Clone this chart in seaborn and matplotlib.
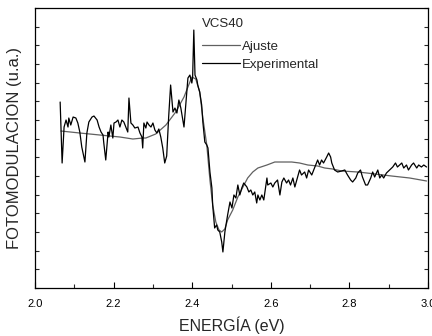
import matplotlib
matplotlib.use("Agg")
import matplotlib.pyplot as plt
from matplotlib.ticker import MultipleLocator, NullFormatter
import seaborn as sns
import pandas as pd

# Experimental photomodulation spectrum (energy in eV, signal in arbitrary units)
exp_energy = [2.064, 2.069, 2.074, 2.079, 2.084, 2.086, 2.091, 2.097, 2.104, 2.109,
              2.114, 2.119, 2.127, 2.132, 2.137, 2.145, 2.150, 2.158, 2.163, 2.168,
              2.173, 2.175, 2.180, 2.186, 2.188, 2.193, 2.198, 2.201, 2.206, 2.211,
              2.216, 2.221, 2.226, 2.231, 2.236, 2.239, 2.244, 2.249, 2.254, 2.262,
              2.267, 2.272, 2.274, 2.277, 2.282, 2.285, 2.290, 2.295, 2.300, 2.305,
              2.310, 2.315, 2.320, 2.325, 2.330, 2.335, 2.340, 2.345, 2.351, 2.356,
              2.361, 2.366, 2.371, 2.379, 2.384, 2.389, 2.394, 2.399, 2.401, 2.404,
              2.407, 2.412, 2.414, 2.419, 2.424, 2.427, 2.432, 2.437, 2.440, 2.445,
              2.450, 2.452, 2.457, 2.462, 2.465, 2.470, 2.475, 2.478, 2.483, 2.490,
              2.496, 2.501, 2.506, 2.511, 2.516, 2.521, 2.526, 2.531, 2.539, 2.544,
              2.549, 2.554, 2.559, 2.564, 2.567, 2.572, 2.577, 2.582, 2.590, 2.592,
              2.600, 2.605, 2.610, 2.617, 2.623, 2.628, 2.633, 2.640, 2.645, 2.650,
              2.656, 2.661, 2.668, 2.673, 2.678, 2.686, 2.691, 2.696, 2.704, 2.706,
              2.714, 2.719, 2.724, 2.729, 2.734, 2.742, 2.747, 2.752, 2.755, 2.762,
              2.770, 2.780, 2.788, 2.795, 2.803, 2.808, 2.816, 2.821, 2.828, 2.833,
              2.841, 2.846, 2.854, 2.859, 2.864, 2.872, 2.877, 2.882, 2.887, 2.894,
              2.902, 2.910, 2.917, 2.922, 2.933, 2.938, 2.945, 2.950, 2.958, 2.963,
              2.971, 2.976, 2.983, 2.989, 2.996]
exp_signal = [186, 125, 161, 168, 161, 170, 163, 171, 170, 165,
              156, 141, 126, 155, 166, 171, 172, 168, 161, 156,
              153, 145, 128, 156, 151, 163, 150, 165, 166, 168,
              161, 168, 166, 161, 156, 190, 165, 163, 160, 161,
              155, 151, 140, 165, 160, 166, 163, 161, 165, 158,
              155, 159, 151, 140, 125, 132, 171, 203, 176, 180,
              175, 188, 180, 161, 186, 210, 213, 205, 211, 258,
              213, 208, 203, 196, 183, 166, 146, 143, 140, 116,
              100, 83, 60, 63, 58, 56, 46, 36, 56, 73,
              86, 80, 93, 90, 103, 93, 100, 105, 101, 96,
              98, 93, 96, 85, 93, 88, 93, 88, 110, 103,
              105, 101, 105, 108, 93, 106, 110, 105, 108, 103,
              110, 101, 111, 118, 113, 116, 110, 118, 113, 115,
              123, 128, 123, 128, 125, 131, 135, 131, 125, 118,
              116, 117, 118, 113, 108, 106, 110, 115, 118, 111,
              103, 103, 110, 116, 111, 118, 110, 113, 110, 115,
              118, 121, 125, 121, 125, 120, 123, 118, 123, 125,
              120, 123, 121, 123, 121]

# Fitted curve (Ajuste)
fit_energy = [2.066, 2.114, 2.165, 2.216, 2.249, 2.274, 2.282, 2.307, 2.333, 2.358,
              2.379, 2.391, 2.399, 2.409, 2.419, 2.427, 2.437, 2.445, 2.452, 2.460,
              2.468, 2.475, 2.483, 2.490, 2.503, 2.516, 2.529, 2.541, 2.554, 2.567,
              2.590, 2.610, 2.630, 2.653, 2.673, 2.694, 2.719, 2.737, 2.757, 2.780,
              2.821, 2.844, 2.907, 2.953, 2.996]
fit_signal = [157, 155, 153, 151, 149, 150, 150, 154, 163, 176,
              191, 203, 211, 209, 196, 170, 143, 108, 83, 66,
              58, 56, 59, 68, 78, 91, 101, 110, 116, 120,
              123, 126, 126, 126, 125, 123, 122, 120, 119, 117,
              116, 115, 112, 110, 107]

legend_title = "VCS40"
series_names = ["Ajuste", "Experimental"]
x_label = "ENERGÍA (eV)"
y_label = "FOTOMODULACION (u.a.)"

fit_df = pd.DataFrame({"E": fit_energy, "S": fit_signal, "serie": series_names[0]})
exp_df = pd.DataFrame({"E": exp_energy, "S": exp_signal, "serie": series_names[1]})

sns.set_style("ticks")
plt.rcParams["font.family"] = ["Liberation Sans", "DejaVu Sans"]

fig = plt.figure(figsize=(4.32, 3.36), dpi=100)
ax = fig.add_axes([0.081, 0.143, 0.910, 0.833])

sns.lineplot(data=fit_df, x="E", y="S", sort=False, estimator=None,
             color="#606060", lw=0.9, ax=ax, label=series_names[0])
sns.lineplot(data=exp_df, x="E", y="S", sort=False, estimator=None,
             color="black", lw=0.9, ax=ax, label=series_names[1])

ax.set_xlim(2.0, 3.0)
ax.set_ylim(0, 280)
ax.xaxis.set_major_locator(MultipleLocator(0.2))
ax.xaxis.set_minor_locator(MultipleLocator(0.1))
ax.yaxis.set_major_locator(MultipleLocator(280 / 15))
ax.yaxis.set_major_formatter(NullFormatter())
ax.tick_params(axis="x", which="major", direction="in", length=4, width=0.8,
               labelsize=8, pad=8, colors="black")
ax.tick_params(axis="x", which="minor", direction="in", length=3, width=0.8)
ax.tick_params(axis="y", which="major", direction="in", length=3, width=0.8,
               left=True, right=True)
for sp in ax.spines.values():
    sp.set_visible(True)
    sp.set_linewidth(0.9)
    sp.set_color("black")

ax.set_xlabel(x_label, fontsize=11.5, labelpad=5)
ax.set_ylabel(y_label, fontsize=12, labelpad=6)

leg = ax.legend(title=legend_title, loc="upper left", bbox_to_anchor=(0.418, 0.975),
                frameon=False, fontsize=9.5, title_fontsize=9.5, handlelength=2.9,
                handletextpad=0.15, labelspacing=0.45, borderaxespad=0, borderpad=0.2,
                alignment="left")
leg._legend_box.sep = 0.45 * 9.5 + 3.6

fig.savefig("out.png", dpi=100)
